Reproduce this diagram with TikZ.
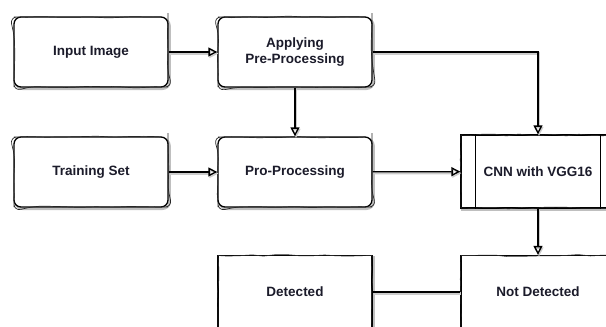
\documentclass[tikz,border=0pt]{standalone}
\usepackage{fontspec}
\setmainfont{Liberation Sans}
\usepackage{xcolor}
\usetikzlibrary{arrows.meta,calc,decorations.pathmorphing}
\definecolor{ink}{HTML}{1B1B2A}

\begin{document}
\pgfmathsetseed{7}
\begin{tikzpicture}[x=1pt,y=-1pt,
   sketch/.style={draw=black, line width=1.3pt, fill=white,
      preaction={draw=black!25, line width=2.4pt, transform canvas={shift={(1.6pt,-1.8pt)}}},
      postaction={draw=black!85, line width=0.7pt, decorate,
                  decoration={random steps, segment length=12pt, amplitude=0.9pt}}},
   rbox/.style={sketch, rounded corners=7pt, minimum width=154pt, minimum height=70pt,
                align=center, text=ink, font=\fontsize{13.5}{15.5}\selectfont\bfseries},
   sbox/.style={rbox, rounded corners=0pt, minimum height=73pt},
   flow/.style={draw=black, line width=1.3pt,
                preaction={draw=black!20, line width=2.2pt, transform canvas={shift={(1pt,-1.5pt)}}},
                -{Triangle[open, length=9pt, width=9pt, line width=1.4pt]}},
   link/.style={flow, -}
]
\useasboundingbox (0,0) rectangle (606,327);

% left column and middle column
\node[rbox] (input) at (91,52) {Input Image};
\node[rbox] (apply) at (295,52) {Applying\\Pre-Processing};
\node[rbox] (train) at (91,172) {Training Set};
\node[rbox] (pro) at (295,172) {Pro-Processing};

% model block with the side bars
\node[sbox] (cnn) at (538,171.5) {CNN with VGG16};
\draw[line width=1.3pt] ($(cnn.north west)+(15,0)$) -- ($(cnn.south west)+(15,0)$);
\draw[line width=1.3pt] ($(cnn.north east)+(-15,0)$) -- ($(cnn.south east)+(-15,0)$);

% outcomes
\node[sbox] (notdet) at (538,292) {Not Detected};
\node[sbox] (det) at (295,292) {Detected};

\draw[flow] (input) -- (apply);
\draw[flow] (apply.east) -| (cnn.north);
\draw[flow] (apply) -- (pro);
\draw[flow] (train) -- (pro);
\draw[flow] (pro) -- (cnn);
\draw[flow] (cnn) -- (notdet);
\draw[link] (notdet) -- (det);
\end{tikzpicture}
\end{document}
